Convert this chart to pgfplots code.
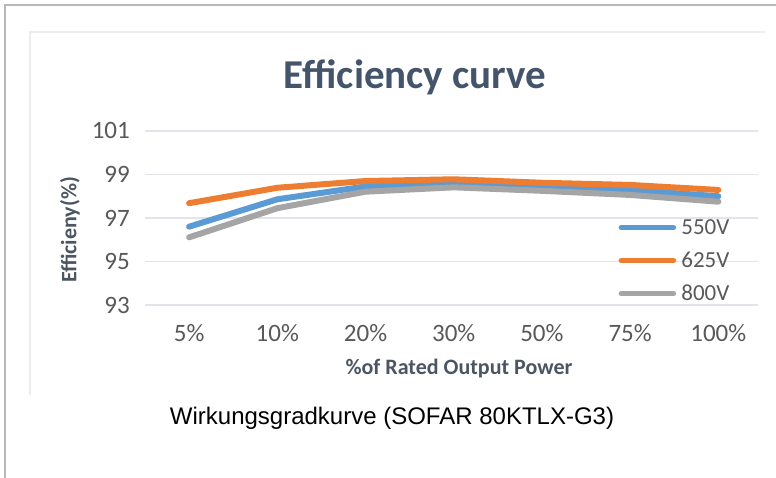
\documentclass[border=0pt]{standalone}
\usepackage{pgfplots}
\pgfplotsset{compat=1.18}
\usepackage{fontspec}
\setmainfont{Carlito}
\newfontfamily\arialfont{Liberation Sans}
\definecolor{c550}{HTML}{5B9BD5}
\definecolor{c625}{HTML}{ED7D31}
\definecolor{c800}{HTML}{A5A5A5}
\definecolor{ticktxt}{HTML}{595959}
\definecolor{ttl}{HTML}{44546A}
\definecolor{lbl}{HTML}{4C5663}
\definecolor{gridc}{HTML}{E1E4E8}
\begin{document}
\begin{tikzpicture}
\begin{scope}[x=1pt,y=-1pt]
\path[use as bounding box, fill=white] (0,0) rectangle (776,478);
\draw[color=black!28, line width=2pt] (5,478) -- (5,5) -- (776,5);
\draw[color=black!7, line width=1.5pt] (30,395) -- (30,32) -- (765,32);
\node[font=\fontsize{41}{46}\selectfont\bfseries, text=ttl] at (415,77) {Efficiency curve};
\node[font=\fontsize{22}{26}\selectfont\bfseries, text=lbl, rotate=90] at (70,230) {Efficieny(\%)};
\node[font=\fontsize{22}{26}\selectfont\bfseries, text=lbl] at (459,369) {\%of Rated Output Power};
\node[font=\arialfont\fontsize{24}{28}\selectfont, text=black] at (392,418) {Wirkungsgradkurve (SOFAR 80KTLX-G3)};
\end{scope}
\begin{axis}[
  at={(145pt,-305pt)}, anchor=south west,
  scale only axis, width=613pt, height=174pt,
  xmin=-0.5, xmax=6.45, ymin=93, ymax=101,
  ytick={93,95,97,99,101},
  xtick={0,...,6},
  xticklabels={5\%,10\%,20\%,30\%,50\%,75\%,100\%},
  axis line style={draw=none},
  major tick length=0pt,
  ymajorgrids, grid style={color=gridc, line width=1.2pt},
  tick label style={font=\fontsize{25}{30}\selectfont, text=ticktxt},
  yticklabel style={anchor=base east, inner sep=0pt, xshift=-15pt, yshift=-8pt},
  xticklabel style={anchor=base, inner sep=0pt, yshift=-36pt},
  /pgf/number format/assume math mode=true,
  legend style={draw=none, fill=none, at={(0.767,0.236)}, anchor=west,
    font=\fontsize{23}{27}\selectfont, text=ticktxt,
    row sep=17pt, inner sep=0pt,
    nodes={inner sep=0pt, text height=12pt, text depth=4pt, text=ticktxt}},
  legend cell align=left,
  legend image code/.code={\draw[line width=5.5pt, line cap=round, #1] (3pt,0.32em) -- (55pt,0.32em); \path (0pt,0pt) (60pt,0pt);},
  every axis plot/.append style={line width=6pt, line cap=round, line join=round, mark=none},
]
\addplot[c550] coordinates {(0,96.6) (1,97.86) (2,98.45) (3,98.56) (4,98.38) (5,98.29) (6,98.0)};
\addlegendentry{550V}
\addplot[c625] coordinates {(0,97.68) (1,98.39) (2,98.7) (3,98.78) (4,98.62) (5,98.52) (6,98.29)};
\addlegendentry{625V}
\addplot[c800] coordinates {(0,96.11) (1,97.45) (2,98.21) (3,98.41) (4,98.25) (5,98.06) (6,97.75)};
\addlegendentry{800V}
\end{axis}
\end{tikzpicture}
\end{document}
